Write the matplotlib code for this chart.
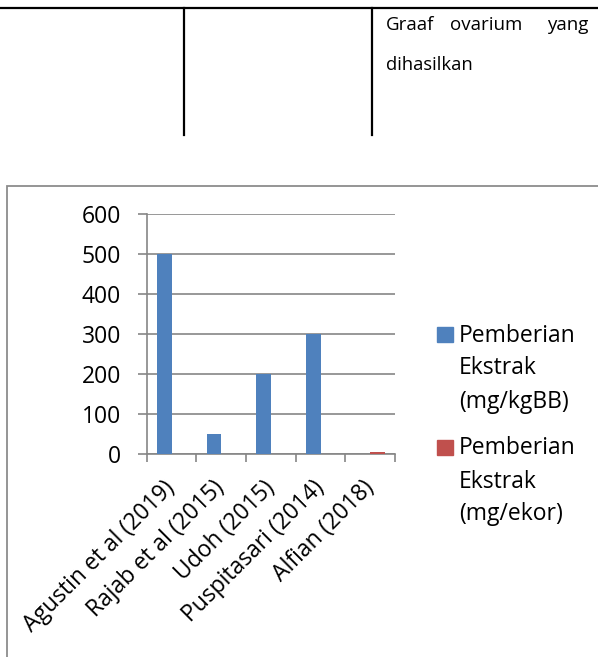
import matplotlib
matplotlib.use("Agg")
import matplotlib.pyplot as plt
import numpy as np
from matplotlib.lines import Line2D
from matplotlib.patches import Rectangle

# Data
studies = ["Agustin et al (2019)", "Rajab et al (2015)", "Udoh (2015)",
           "Puspitasari (2014)", "Alfian (2018)"]
dose_kgbb = [500, 50, 200, 300, 0]
dose_ekor = [0, 0, 0, 0, 6]
series_labels = ["Pemberian\nEkstrak\n(mg/kgBB)", "Pemberian\nEkstrak\n(mg/ekor)"]
series_colors = ["#4F81BD", "#C0504D"]
yticks = [0, 100, 200, 300, 400, 500, 600]

plt.rcParams['font.family'] = ['Open Sans', 'DejaVu Sans']

W, H = 598, 657
fig = plt.figure(figsize=(W / 100, H / 100), dpi=100)

def fx(px):
    return px / W

def fy(py):
    return 1 - py / H

# table fragment above the chart
fig.add_artist(Line2D([0, 1], [fy(8), fy(8)], color="black", lw=1.6))
for xv in [184, 371.5]:
    fig.add_artist(Line2D([fx(xv), fx(xv)], [fy(8), fy(135)], color="black", lw=1.6))
fig.text(fx(386), fy(30), "Graaf", fontsize=13.5, va="baseline", ha="left")
fig.text(fx(486), fy(30), "ovarium", fontsize=13.5, va="baseline", ha="center")
fig.text(fx(588), fy(30), "yang", fontsize=13.5, va="baseline", ha="right")
fig.text(fx(386), fy(70), "dihasilkan", fontsize=13.2, va="baseline", ha="left")

# chart frame
fig.add_artist(Rectangle((fx(7), fy(700)), 1.2, fy(185.5) - fy(700),
                         fill=False, edgecolor="#8C8C8C", lw=1.3))

# axes
ax = fig.add_axes([fx(146.7), fy(454), fx(395) - fx(146.7), fy(214.3) - fy(454)])
x = np.arange(len(studies))
w = 0.3
ax.bar(x - 0.145, dose_kgbb, w, color=series_colors[0], zorder=3)
ax.bar(x + 0.145, dose_ekor, w, color=series_colors[1], zorder=3)

ax.set_xlim(-0.5, len(studies) - 0.5)
ax.set_ylim(0, 600)
ax.set_yticks(yticks)
ax.yaxis.grid(True, color="#868686", lw=1.2, zorder=0)
for s in ["top", "right"]:
    ax.spines[s].set_visible(False)
for s in ["left", "bottom"]:
    ax.spines[s].set_color("#868686")
    ax.spines[s].set_linewidth(1.2)
ax.tick_params(axis="y", length=6.5, width=1.2, color="#868686", pad=12, labelsize=16.5)
ax.set_xticks(x)
ax.set_xticklabels(studies, rotation=45, ha="right", va="center",
                   rotation_mode="anchor", fontsize=16.5)
ax.tick_params(axis="x", which="major", length=0, pad=22)
ax.set_xticks(np.arange(-0.5, len(studies)), minor=True)
ax.tick_params(axis="x", which="minor", length=6, width=1.2, color="#868686")

# legend drawn by hand so the swatch sits beside the first line
legend_tops = [327, 440]
for top, label, col in zip(legend_tops, series_labels, series_colors):
    fig.add_artist(Rectangle((fx(437), fy(top + 14.5)), fx(15.5), fy(top) - fy(top + 14.5),
                             color=col))
    for j, line in enumerate(label.split("\n")):
        fig.text(fx(459), fy(top + 14.5 + j * 33), line, fontsize=16.5,
                 va="baseline", ha="left")

fig.savefig("out.png", dpi=100)
